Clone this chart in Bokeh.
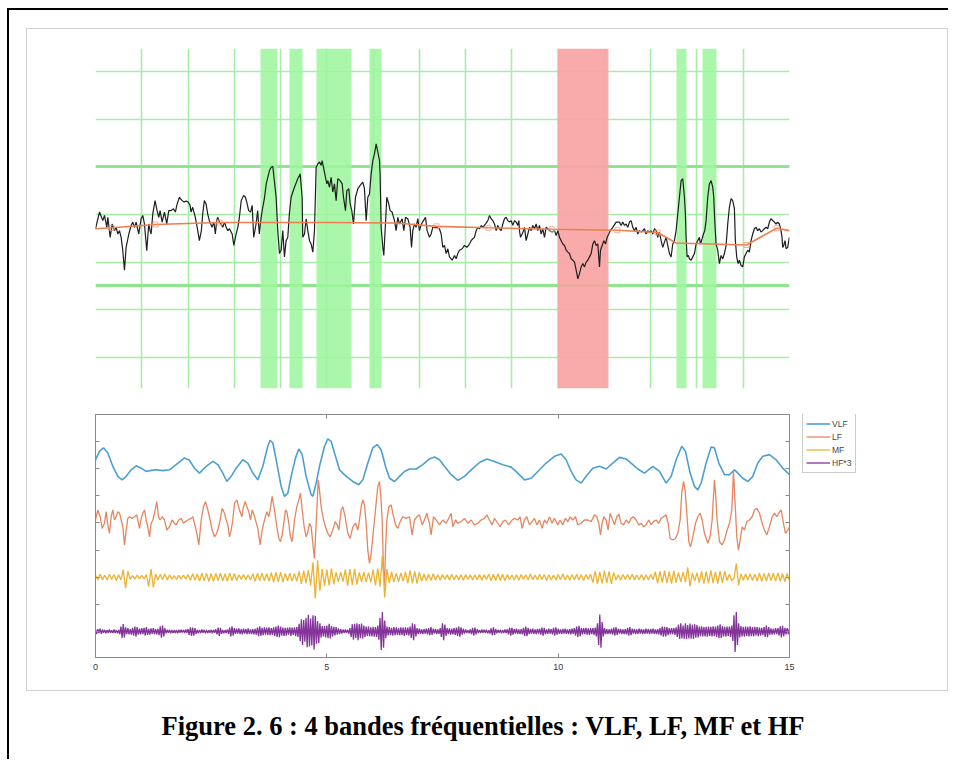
import numpy as np
from bokeh.plotting import figure
from bokeh.models import Range1d, FixedTicker, Grid, LinearAxis, Legend, LegendItem, Div
from bokeh.layouts import column, row
from bokeh.embed import file_html
from bokeh.resources import INLINE

# ---------------- top panel data ----------------
grid_t = [1, 2, 3, 4, 5, 6, 7, 8, 9, 10, 11, 12, 13, 14, 15]
grid_v = [1, 2, 3, 4, 5, 6, 7]
threshold_v = [5.0, 2.5]
green_start = [3.57, 4.19, 4.77, 5.92, 12.56, 13.11]
green_end = [3.93, 4.48, 5.54, 6.18, 12.77, 13.43]
red_start = [9.99]
red_end = [11.09]

signal = [
 (0.0,3.70),(0.086,4.05),(0.158,3.87),(0.194,3.98),(0.245,3.73),(0.266,3.94),(0.317,3.52),(0.36,3.80),(0.41,3.66),(0.446,3.73),
 (0.482,3.59),(0.518,3.66),(0.554,3.52),(0.59,3.24),(0.626,2.83),(0.662,3.31),(0.72,3.59),(0.77,3.77),(0.806,3.84),(0.842,3.73),
 (0.878,3.84),(0.935,3.59),(0.986,3.91),(1.022,3.98),(1.058,3.80),(1.108,3.24),(1.151,3.80),(1.18,3.66),(1.202,3.59),(1.238,4.01),
 (1.288,4.29),(1.331,4.08),(1.367,3.94),(1.396,4.08),(1.44,3.84),(1.49,4.05),(1.54,3.80),(1.584,4.08),(1.634,4.08),(1.684,4.12),
 (1.727,4.05),(1.756,4.19),(1.814,4.36),(1.872,4.29),(1.915,4.26),(1.958,4.28),(2.0,4.26),(2.044,4.19),(2.065,4.05),(2.1,4.15),
 (2.158,3.94),(2.21,3.66),(2.245,3.45),(2.288,3.66),(2.317,4.01),(2.353,4.29),(2.39,4.22),(2.425,4.01),(2.46,3.87),(2.52,3.73),
 (2.56,3.84),(2.59,3.59),(2.62,3.87),(2.64,3.94),(2.68,3.84),(2.716,3.80),(2.75,3.73),(2.79,3.84),(2.824,3.73),(2.86,3.66),
 (2.896,3.70),(2.954,3.59),(2.99,3.35),(3.04,3.59),(3.076,3.73),(3.11,3.94),(3.15,4.29),(3.2,4.40),(3.24,4.36),(3.27,4.26),
 (3.31,4.08),(3.35,4.05),(3.386,4.19),(3.42,3.52),(3.47,3.80),(3.505,4.08),(3.54,3.59),(3.58,3.94),(3.61,4.12),(3.65,4.33),
 (3.69,4.64),(3.76,4.92),(3.796,4.99),(3.832,5.01),(3.904,4.36),(3.94,3.66),(3.976,3.18),(4.012,3.25),(4.048,3.66),(4.084,3.11),
 (4.12,3.45),(4.156,3.52),(4.19,4.01),(4.228,4.36),(4.3,4.57),(4.372,4.75),(4.423,4.85),(4.466,4.36),(4.48,3.52),(4.517,3.59),
 (4.553,3.91),(4.589,3.66),(4.625,3.45),(4.661,3.38),(4.697,3.21),(4.733,3.66),(4.769,4.99),(4.805,5.06),(4.841,5.10),(4.877,5.03),
 (4.898,5.13),(4.927,4.99),(4.97,4.78),(5.0,4.64),(5.021,4.71),(5.057,4.57),(5.093,4.78),(5.129,4.47),(5.165,4.64),(5.201,4.29),
 (5.237,4.75),(5.287,4.71),(5.331,4.64),(5.36,4.36),(5.403,4.08),(5.432,4.50),(5.475,4.54),(5.504,4.22),(5.54,4.08),(5.576,3.80),
 (5.619,4.36),(5.67,4.54),(5.72,4.61),(5.777,4.68),(5.813,4.54),(5.85,3.87),(5.886,4.36),(5.922,4.43),(5.958,4.85),(5.994,5.13),
 (6.03,5.27),(6.066,5.48),(6.102,5.31),(6.138,5.13),(6.152,4.82),(6.174,3.73),(6.21,3.31),(6.231,3.14),(6.267,3.80),(6.296,4.36),
 (6.339,4.22),(6.368,4.08),(6.411,4.05),(6.462,3.87),(6.498,3.66),(6.534,3.94),(6.57,3.80),(6.628,3.91),(6.664,3.66),(6.7,3.94),
 (6.75,3.91),(6.8,3.73),(6.83,3.31),(6.858,3.66),(6.894,3.80),(6.93,3.73),(6.966,3.91),(7.002,3.66),(7.045,3.80),(7.089,3.87),
 (7.132,3.94),(7.168,3.66),(7.218,3.52),(7.254,3.59),(7.29,3.73),(7.362,3.73),(7.434,3.70),(7.471,3.59),(7.507,3.31),(7.543,3.35),
 (7.579,3.18),(7.615,3.28),(7.651,3.11),(7.709,3.04),(7.759,3.14),(7.795,3.07),(7.831,3.18),(7.867,3.25),(7.925,3.28),(7.975,3.35),
 (8.026,3.31),(8.083,3.38),(8.119,3.45),(8.155,3.49),(8.191,3.52),(8.227,3.66),(8.263,3.73),(8.299,3.70),(8.336,3.77),(8.372,3.73),
 (8.43,3.80),(8.48,3.87),(8.516,3.98),(8.552,3.91),(8.588,3.87),(8.624,3.80),(8.66,3.66),(8.696,3.77),(8.732,3.70),(8.768,3.66),
 (8.804,3.80),(8.84,3.91),(8.876,3.94),(8.912,3.87),(8.948,3.84),(8.984,3.87),(9.02,3.77),(9.056,3.87),(9.092,3.84),(9.128,3.77),
 (9.15,3.87),(9.164,3.66),(9.186,3.52),(9.222,3.59),(9.25,3.66),(9.272,3.73),(9.308,3.45),(9.344,3.59),(9.38,3.73),(9.416,3.66),
 (9.452,3.77),(9.488,3.70),(9.524,3.80),(9.56,3.66),(9.596,3.77),(9.632,3.59),(9.668,3.70),(9.704,3.52),(9.74,3.73),(9.776,3.70),
 (9.812,3.66),(9.87,3.63),(9.92,3.66),(9.957,3.56),(9.993,3.66),(10.029,3.52),(10.065,3.45),(10.101,3.38),(10.137,3.35),(10.173,3.25),
 (10.209,3.21),(10.245,3.18),(10.281,3.07),(10.317,3.04),(10.353,3.00),(10.389,2.83),(10.425,2.65),(10.461,2.76),(10.497,2.90),(10.533,2.97),
 (10.569,2.90),(10.605,3.00),(10.641,3.04),(10.677,3.11),(10.713,3.18),(10.749,3.38),(10.785,3.45),(10.821,3.35),(10.857,3.38),(10.893,2.90),
 (10.915,3.25),(10.951,3.35),(10.987,3.45),(11.023,3.38),(11.059,3.52),(11.095,3.59),(11.124,3.66),(11.181,3.73),(11.253,3.84),(11.325,3.84),
 (11.361,3.77),(11.397,3.84),(11.433,3.77),(11.469,3.80),(11.505,3.73),(11.541,3.84),(11.577,3.87),(11.613,3.73),(11.649,3.66),(11.685,3.73),
 (11.721,3.59),(11.757,3.66),(11.793,3.63),(11.829,3.66),(11.865,3.70),(11.901,3.59),(11.937,3.66),(11.973,3.63),(12.009,3.66),(12.045,3.59),
 (12.081,3.70),(12.117,3.66),(12.153,3.52),(12.189,3.63),(12.225,3.45),(12.261,3.31),(12.297,3.42),(12.333,3.52),(12.369,3.35),(12.405,3.18),
 (12.441,3.11),(12.477,3.38),(12.513,3.45),(12.549,3.66),(12.585,4.01),(12.621,4.36),(12.657,4.71),(12.693,4.75),(12.729,4.36),(12.75,4.01),
 (12.765,3.52),(12.787,3.11),(12.815,3.14),(12.837,3.07),(12.873,3.04),(12.909,3.11),(12.945,3.18),(12.981,3.38),(13.017,3.45),(13.053,3.52),
 (13.075,3.38),(13.111,3.49),(13.14,3.59),(13.168,3.66),(13.197,3.87),(13.233,4.36),(13.269,4.64),(13.305,4.71),(13.341,4.57),(13.363,4.36),
 (13.384,3.87),(13.413,3.38),(13.449,3.25),(13.485,2.97),(13.521,3.14),(13.557,3.07),(13.593,3.18),(13.629,3.35),(13.665,3.80),(13.701,4.15),
 (13.737,4.33),(13.773,4.29),(13.809,4.12),(13.83,3.45),(13.859,3.11),(13.888,2.97),(13.917,3.04),(13.953,2.93),(13.989,2.90),(14.025,3.11),
 (14.061,3.18),(14.097,3.25),(14.133,3.21),(14.169,3.45),(14.205,3.59),(14.241,3.70),(14.277,3.73),(14.313,3.66),(14.349,3.70),(14.385,3.63),
 (14.421,3.66),(14.457,3.70),(14.493,3.73),(14.529,3.70),(14.565,3.84),(14.601,3.91),(14.637,3.87),(14.673,3.84),(14.709,3.80),(14.745,3.84),
 (14.781,3.80),(14.817,3.66),(14.838,3.52),(14.853,3.31),(14.875,3.35),(14.903,3.45),(14.925,3.28),(14.961,3.31),(14.997,3.52),
]
trend = [(0.0,3.70),(0.35,3.72),(1.3,3.79),(2.68,3.83),(5.0,3.83),(6.5,3.82),(7.37,3.75),(8.49,3.72),(9.86,3.69),
         (11.28,3.67),(12.15,3.62),(12.55,3.40),(14.07,3.36),(14.72,3.71),(15.0,3.66)]
trend_knots = [(0.35,3.72),(1.3,3.79),(2.68,3.83),(7.37,3.75),(8.49,3.72),(9.86,3.69),(11.28,3.67),(12.15,3.62),(14.07,3.36),(14.72,3.71)]

# ---------------- bottom panel data ----------------
vlf = [
 (0.0,6.33),(0.086,6.64),(0.173,6.77),(0.266,6.58),(0.374,6.09),(0.483,5.72),(0.576,5.59),(0.663,5.72),(0.771,5.96),(0.879,6.11),
 (0.987,6.02),(1.095,5.90),(1.203,5.94),(1.311,5.96),(1.455,5.93),(1.599,5.96),(1.743,6.15),(1.923,6.40),(2.031,6.31),(2.14,6.02),
 (2.248,5.84),(2.392,6.09),(2.536,6.27),(2.644,6.15),(2.752,5.84),(2.838,5.53),(2.932,5.72),(3.04,6.02),(3.184,6.33),(3.292,6.21),
 (3.4,5.84),(3.508,5.59),(3.617,6.09),(3.724,6.83),(3.775,7.05),(3.833,6.95),(3.905,6.33),(4.013,5.35),(4.085,4.98),(4.157,5.10),
 (4.229,5.72),(4.323,6.40),(4.395,6.73),(4.467,6.52),(4.553,5.72),(4.661,5.04),(4.697,4.98),(4.769,5.47),(4.841,6.09),(4.95,6.83),
 (5.021,7.10),(5.093,7.01),(5.187,6.46),(5.274,5.96),(5.418,5.72),(5.562,5.53),(5.692,5.41),(5.778,5.59),(5.886,6.21),(5.994,6.77),
 (6.088,6.89),(6.174,6.70),(6.268,6.09),(6.354,5.65),(6.462,5.53),(6.57,5.72),(6.678,5.90),(6.786,5.99),(6.93,5.99),(7.074,6.15),
 (7.218,6.36),(7.326,6.43),(7.435,6.33),(7.543,6.09),(7.687,5.78),(7.831,5.57),(7.975,5.72),(8.119,5.96),(8.299,6.23),(8.458,6.36),
 (8.623,6.27),(8.803,6.15),(8.984,6.06),(9.128,5.84),(9.272,5.59),(9.416,5.65),(9.56,5.90),(9.74,6.21),(9.92,6.46),(10.064,6.54),
 (10.172,6.33),(10.28,5.90),(10.388,5.59),(10.497,5.47),(10.605,5.72),(10.749,6.02),(10.893,6.09),(11.037,5.99),(11.181,6.21),(11.325,6.42),
 (11.469,6.36),(11.613,6.15),(11.721,5.99),(11.865,5.84),(12.045,6.09),(12.19,5.90),(12.334,5.47),(12.442,5.72),(12.55,6.33),(12.672,6.83),
 (12.752,6.64),(12.852,5.84),(12.946,5.35),(13.018,5.22),(13.09,5.47),(13.198,6.21),(13.306,6.80),(13.378,6.77),(13.472,6.21),(13.594,5.78),
 (13.703,5.78),(13.811,5.96),(13.883,5.84),(13.991,5.65),(14.099,5.53),(14.207,5.72),(14.315,6.21),(14.423,6.46),(14.567,6.52),(14.711,6.33),
 (14.855,6.02),(15.0,5.78),
]
lf = [
 (0.0,4.11),(0.05,4.48),(0.1,4.23),(0.144,3.80),(0.194,3.99),(0.23,4.42),(0.266,3.93),(0.302,3.62),(0.338,4.23),(0.374,4.48),
 (0.41,4.11),(0.446,4.23),(0.483,4.42),(0.519,4.36),(0.555,4.11),(0.591,3.86),(0.627,3.19),(0.663,3.74),(0.699,4.17),(0.735,4.23),
 (0.792,4.17),(0.843,4.23),(0.893,4.30),(0.951,3.80),(0.987,4.17),(1.023,4.36),(1.059,4.48),(1.095,4.11),(1.131,3.86),(1.167,3.49),
 (1.203,3.99),(1.239,4.11),(1.29,4.48),(1.325,4.79),(1.361,4.23),(1.397,4.11),(1.441,4.23),(1.491,4.11),(1.542,3.74),(1.599,3.86),
 (1.657,4.11),(1.707,3.99),(1.743,3.93),(1.801,4.11),(1.851,4.17),(1.902,3.99),(1.945,4.05),(1.995,4.11),(2.067,4.17),(2.104,4.23),
 (2.14,3.99),(2.19,3.62),(2.233,3.19),(2.284,4.11),(2.334,4.60),(2.377,4.79),(2.428,4.48),(2.478,4.11),(2.521,3.74),(2.572,3.49),
 (2.622,3.62),(2.68,3.99),(2.738,4.54),(2.788,4.36),(2.824,4.11),(2.86,3.93),(2.896,3.49),(2.932,3.74),(2.968,4.11),(3.004,4.73),
 (3.055,4.85),(3.112,4.48),(3.163,4.23),(3.199,4.60),(3.235,4.79),(3.271,4.60),(3.314,4.42),(3.35,4.11),(3.386,4.48),(3.415,4.36),
 (3.458,4.11),(3.508,3.80),(3.559,3.19),(3.602,3.74),(3.652,4.11),(3.703,4.42),(3.746,4.23),(3.775,4.48),(3.818,4.98),(3.869,4.48),
 (3.919,3.86),(3.962,3.43),(3.998,3.31),(4.034,3.56),(4.07,3.99),(4.106,4.48),(4.135,4.42),(4.178,3.99),(4.214,3.49),(4.25,3.31),
 (4.301,4.11),(4.351,4.60),(4.395,4.85),(4.431,5.10),(4.467,4.48),(4.51,3.86),(4.553,3.49),(4.582,3.62),(4.625,3.99),(4.661,3.86),
 (4.697,3.25),(4.733,2.69),(4.755,3.49),(4.784,4.48),(4.813,5.59),(4.841,5.22),(4.877,4.60),(4.928,4.11),(4.971,3.86),(5.021,3.62),
 (5.072,3.49),(5.13,3.74),(5.18,4.05),(5.223,3.93),(5.259,3.74),(5.31,4.48),(5.346,4.60),(5.396,4.23),(5.454,3.62),(5.504,3.43),
 (5.562,3.86),(5.62,3.99),(5.67,3.74),(5.706,4.11),(5.742,4.60),(5.778,4.85),(5.814,4.67),(5.85,3.99),(5.886,3.00),(5.922,2.51),
 (5.958,2.88),(5.994,3.49),(6.03,4.11),(6.066,4.73),(6.102,5.35),(6.138,5.53),(6.167,4.98),(6.196,4.11),(6.225,2.26),(6.246,1.70),
 (6.268,3.00),(6.297,4.11),(6.34,4.60),(6.39,4.67),(6.426,4.36),(6.484,3.93),(6.534,3.80),(6.585,4.05),(6.642,4.23),(6.714,4.17),
 (6.786,4.23),(6.844,3.56),(6.894,4.11),(6.945,4.23),(7.002,4.30),(7.06,3.93),(7.11,4.11),(7.161,4.36),(7.218,3.99),(7.254,3.56),
 (7.305,4.23),(7.363,4.11),(7.435,3.93),(7.507,4.11),(7.579,3.99),(7.651,4.23),(7.687,4.36),(7.723,3.86),(7.78,4.11),(7.831,3.99),
 (7.903,4.05),(7.975,4.17),(8.047,3.99),(8.119,4.11),(8.191,3.93),(8.263,3.99),(8.335,4.11),(8.407,4.17),(8.458,4.30),(8.515,4.11),
 (8.573,3.93),(8.623,4.17),(8.695,3.99),(8.746,3.86),(8.803,4.05),(8.861,4.11),(8.933,3.93),(9.005,4.11),(9.056,4.17),(9.128,4.11),
 (9.178,4.23),(9.221,3.80),(9.272,4.11),(9.322,4.23),(9.38,3.93),(9.437,4.05),(9.488,4.17),(9.538,3.93),(9.596,4.11),(9.654,3.80),
 (9.704,4.11),(9.754,3.99),(9.812,4.23),(9.87,3.99),(9.92,4.17),(9.992,3.93),(10.043,4.11),(10.1,3.93),(10.158,4.17),(10.208,4.05),
 (10.259,4.23),(10.316,4.11),(10.374,4.23),(10.424,3.93),(10.497,3.99),(10.569,4.11),(10.641,4.11),(10.713,4.05),(10.785,4.30),(10.835,4.23),
 (10.878,3.99),(10.914,3.56),(10.95,3.99),(10.986,4.23),(11.037,4.11),(11.08,3.74),(11.123,4.36),(11.166,4.17),(11.217,3.93),(11.267,4.23),
 (11.311,4.33),(11.361,3.99),(11.412,3.93),(11.469,4.11),(11.527,3.99),(11.577,4.17),(11.628,4.23),(11.685,4.11),(11.743,3.93),(11.793,3.99),
 (11.851,3.86),(11.901,3.93),(11.959,4.11),(12.009,3.93),(12.06,4.05),(12.118,4.11),(12.175,3.99),(12.226,4.17),(12.276,4.23),(12.334,4.30),
 (12.377,3.99),(12.42,3.43),(12.478,3.37),(12.535,3.43),(12.586,3.62),(12.636,4.11),(12.672,5.10),(12.708,5.53),(12.744,5.22),(12.78,4.36),
 (12.824,3.31),(12.86,3.12),(12.91,3.49),(12.968,3.99),(13.018,4.23),(13.069,4.36),(13.112,4.11),(13.162,3.62),(13.234,3.25),(13.284,3.49),
 (13.328,4.11),(13.357,4.98),(13.378,5.59),(13.407,4.98),(13.436,4.11),(13.486,3.31),(13.544,3.19),(13.594,3.37),(13.652,3.74),(13.703,3.99),
 (13.753,4.48),(13.789,5.90),(13.832,4.48),(13.861,3.49),(13.897,3.00),(13.933,3.37),(13.977,3.86),(14.027,3.74),(14.077,4.05),(14.135,4.11),
 (14.193,4.23),(14.243,4.48),(14.293,4.54),(14.351,4.36),(14.409,3.99),(14.459,3.74),(14.51,3.56),(14.567,3.86),(14.625,4.23),(14.675,4.36),
 (14.726,4.23),(14.769,4.36),(14.819,4.48),(14.87,3.99),(14.913,3.62),(14.963,3.74),(15.0,3.86),
]
MF_DT = 0.05
MF_OFFSET = 2.0
mf_v = [
 0.08,-0.1,0.12,-0.09,0.07,-0.1,0.11,-0.08,0.1,-0.12,0.09,-0.1,0.28,-0.4,0.22,-0.08,0.06,-0.07,0.08,-0.06,
 0.07,-0.06,0.1,-0.35,0.3,-0.38,0.12,-0.1,0.11,-0.09,0.12,-0.1,0.09,-0.07,0.06,-0.08,0.07,-0.06,0.08,-0.07,
 0.1,-0.12,0.13,-0.11,0.12,-0.14,0.15,-0.13,0.14,-0.16,0.13,-0.15,0.14,-0.12,0.15,-0.14,0.13,-0.15,0.16,-0.13,
 0.14,-0.12,0.09,-0.08,0.1,-0.09,0.08,-0.1,0.13,-0.15,0.14,-0.12,0.15,-0.14,0.13,-0.15,0.17,-0.19,0.18,-0.17,
 0.19,-0.18,0.14,-0.13,0.15,-0.14,0.13,-0.15,0.22,-0.25,0.24,-0.22,0.26,-0.3,0.55,-0.78,0.62,-0.5,0.3,-0.32,
 0.28,-0.3,0.32,-0.26,0.18,-0.17,0.19,-0.16,0.28,-0.32,0.3,-0.28,0.31,-0.27,0.18,-0.17,0.19,-0.18,0.17,-0.19,
 0.28,-0.3,0.32,-0.35,0.8,-0.75,0.3,-0.22,0.2,-0.18,0.15,-0.17,0.16,-0.15,0.2,-0.22,0.25,-0.23,0.22,-0.24,
 0.2,-0.15,0.12,-0.13,0.11,-0.12,0.13,-0.1,0.09,-0.11,0.1,-0.08,0.09,-0.1,0.11,-0.09,0.08,-0.1,0.09,-0.11,
 0.1,-0.08,0.09,-0.1,0.08,-0.09,0.1,-0.11,0.09,-0.08,0.12,-0.13,0.11,-0.12,0.13,-0.12,0.11,-0.13,0.1,-0.09,
 0.08,-0.1,0.09,-0.11,0.1,-0.08,0.09,-0.1,0.12,-0.09,0.08,-0.1,0.11,-0.09,0.1,-0.12,0.09,-0.1,0.08,-0.11,
 0.1,-0.09,0.12,-0.1,0.08,-0.11,0.1,-0.09,0.11,-0.1,0.09,-0.12,0.1,-0.08,0.11,-0.2,0.22,-0.25,0.2,-0.23,
 0.24,-0.21,0.22,-0.25,0.18,-0.1,0.09,-0.11,0.1,-0.08,0.1,-0.09,0.11,-0.1,0.08,-0.09,0.1,-0.11,0.09,-0.1,
 0.1,-0.09,0.2,-0.23,0.22,-0.2,0.24,-0.22,0.21,-0.24,0.23,-0.2,0.18,-0.17,0.19,-0.18,0.36,-0.34,0.15,-0.14,
 0.16,-0.2,0.22,-0.24,0.21,-0.23,0.25,-0.22,0.2,-0.24,0.23,-0.21,0.22,-0.12,0.11,-0.13,-0.05,0.5,-0.3,0.12,
 -0.11,0.12,-0.1,0.13,-0.12,0.11,-0.14,0.15,-0.16,0.14,-0.15,0.16,-0.13,0.15,-0.14,0.16,-0.15,0.13,-0.16,0.14,
 -0.13,
]
HF_DT = 0.025
HF_OFFSET = 0.0
hf_v = [
 0.08,-0.1,0.09,-0.06,0.1,-0.09,0.07,-0.05,0.06,-0.07,0.05,-0.06,0.07,-0.05,0.04,-0.06,0.07,-0.06,0.05,-0.07,0.06,-0.1,0.18,-0.24,0.27,-0.22,0.15,-0.1,0.12,-0.11,0.09,-0.12,0.13,-0.15,0.18,-0.19,0.16,-0.12,0.1,-0.11,
 0.12,-0.1,0.13,-0.15,0.16,-0.13,0.1,-0.12,0.11,-0.09,0.12,-0.1,0.09,-0.11,0.1,-0.14,0.19,-0.23,0.22,-0.18,0.12,-0.07,0.06,-0.05,0.06,-0.07,0.05,-0.06,0.04,-0.06,0.05,-0.07,0.06,-0.05,0.06,-0.04,0.05,-0.06,0.07,-0.05,
 0.09,-0.13,0.15,-0.16,0.14,-0.15,0.12,-0.09,0.06,-0.07,0.05,-0.06,0.07,-0.05,0.06,-0.07,0.05,-0.06,0.04,-0.05,0.06,-0.07,0.06,-0.05,0.08,-0.11,0.14,-0.16,0.13,-0.09,0.06,-0.07,0.05,-0.06,0.07,-0.09,0.14,-0.18,0.19,-0.15,
 0.12,-0.09,0.1,-0.08,0.11,-0.1,0.09,-0.11,0.1,-0.08,0.09,-0.1,0.11,-0.09,0.08,-0.1,0.09,-0.11,0.1,-0.12,0.14,-0.17,0.19,-0.16,0.13,-0.14,0.15,-0.12,0.14,-0.13,0.15,-0.14,0.12,-0.13,0.15,-0.16,0.18,-0.2,0.22,-0.21,
 0.18,-0.15,0.14,-0.16,0.13,-0.15,0.14,-0.12,0.15,-0.16,0.14,-0.13,0.15,-0.17,0.16,-0.2,0.28,-0.36,0.45,-0.5,0.42,-0.38,0.5,-0.58,0.62,-0.55,0.48,-0.52,0.6,-0.66,0.58,-0.45,0.38,-0.42,0.3,-0.22,0.2,-0.18,0.2,-0.22,
 0.22,-0.25,0.28,-0.26,0.2,-0.18,0.17,-0.15,0.16,-0.12,0.11,-0.1,0.09,-0.08,0.07,-0.06,0.07,-0.05,0.06,-0.08,0.12,-0.2,0.26,-0.3,0.28,-0.24,0.3,-0.32,0.27,-0.25,0.29,-0.26,0.22,-0.2,0.18,-0.16,0.18,-0.17,0.15,-0.18,
 0.17,-0.19,0.16,-0.2,0.22,-0.3,0.5,-0.68,0.72,-0.6,0.4,-0.25,0.18,-0.15,0.16,-0.14,0.13,-0.15,0.16,-0.14,0.15,-0.13,0.12,-0.14,0.15,-0.13,0.14,-0.16,0.15,-0.13,0.14,-0.15,0.18,-0.24,0.3,-0.32,0.26,-0.18,0.12,-0.1,
 0.1,-0.09,0.08,-0.1,0.09,-0.08,0.1,-0.11,0.12,-0.14,0.16,-0.13,0.1,-0.08,0.09,-0.1,0.08,-0.09,0.12,-0.2,0.3,-0.32,0.25,-0.16,0.12,-0.1,0.11,-0.12,0.1,-0.11,0.12,-0.13,0.14,-0.16,0.18,-0.19,0.15,-0.12,0.1,-0.08,
 0.07,-0.06,0.05,-0.07,0.08,-0.1,0.13,-0.15,0.14,-0.11,0.08,-0.06,0.05,-0.06,0.07,-0.05,0.06,-0.05,0.06,-0.07,0.05,-0.08,0.11,-0.14,0.15,-0.13,0.09,-0.07,0.06,-0.05,0.06,-0.07,0.05,-0.06,0.07,-0.06,0.08,-0.11,0.14,-0.15,
 0.13,-0.12,0.09,-0.08,0.1,-0.09,0.08,-0.1,0.09,-0.11,0.13,-0.16,0.18,-0.17,0.13,-0.1,0.09,-0.08,0.1,-0.09,0.08,-0.1,0.09,-0.08,0.1,-0.12,0.14,-0.15,0.13,-0.1,0.08,-0.09,0.1,-0.08,0.09,-0.11,0.13,-0.15,0.15,-0.12,
 0.1,-0.09,0.08,-0.1,0.09,-0.08,0.1,-0.09,0.08,-0.1,0.09,-0.11,0.1,-0.09,0.12,-0.15,0.18,-0.2,0.21,-0.17,0.12,-0.11,0.12,-0.1,0.13,-0.12,0.11,-0.13,0.12,-0.1,0.12,-0.13,0.14,-0.18,0.3,-0.5,0.62,-0.6,0.35,-0.18,
 0.12,-0.1,0.09,-0.1,0.08,-0.09,0.1,-0.12,0.14,-0.15,0.16,-0.13,0.1,-0.08,0.09,-0.1,0.08,-0.1,0.09,-0.11,0.13,-0.15,0.16,-0.14,0.1,-0.08,0.09,-0.1,0.08,-0.09,0.1,-0.08,0.09,-0.1,0.08,-0.09,0.1,-0.08,0.09,-0.1,
 0.09,-0.08,0.1,-0.09,0.08,-0.1,0.09,-0.11,0.12,-0.15,0.18,-0.19,0.17,-0.18,0.16,-0.14,0.12,-0.11,0.12,-0.1,0.12,-0.13,0.15,-0.2,0.25,-0.28,0.3,-0.26,0.22,-0.27,0.3,-0.28,0.24,-0.26,0.29,-0.27,0.25,-0.28,0.26,-0.23,
 0.24,-0.22,0.18,-0.17,0.19,-0.18,0.16,-0.18,0.17,-0.19,0.18,-0.16,0.17,-0.18,0.19,-0.17,0.18,-0.2,0.22,-0.25,0.26,-0.24,0.2,-0.18,0.17,-0.19,0.18,-0.16,0.18,-0.2,0.22,-0.35,0.6,-0.76,0.72,-0.5,0.3,-0.22,0.2,-0.18,
 0.17,-0.19,0.18,-0.16,0.17,-0.18,0.19,-0.17,0.16,-0.18,0.17,-0.15,0.16,-0.17,0.14,-0.15,0.13,-0.14,0.16,-0.2,0.22,-0.21,0.16,-0.12,0.11,-0.12,0.1,-0.11,0.12,-0.1,0.12,-0.15,0.19,-0.22,0.21,-0.17,0.13,-0.11,0.12,-0.1,
 0.11,
]
x_ticks = [0, 5, 10, 15]
y_ticks_bottom = [0, 1, 2, 3, 4, 5, 6, 7]
legend_labels = ["VLF", "LF", "MF", "HF*3"]
band_colors = ["#4c9fd3", "#e58660", "#ebb333", "#84339b"]
band_widths = [1.6, 1.3, 1.3, 1.3]

# ---------------- top figure ----------------
pa = figure(width=920, height=371, x_range=Range1d(0, 15), y_range=Range1d(0.35, 7.48),
            x_axis_type=None, y_axis_type=None, output_backend="svg", toolbar_location=None,
            min_border_left=68, min_border_right=158, min_border_top=19, min_border_bottom=12)
pa.outline_line_color = None
pa.background_fill_color = "white"
pa.border_fill_color = "white"
pa.add_layout(Grid(dimension=0, ticker=FixedTicker(ticks=grid_t), grid_line_color="#a6eea6", grid_line_width=1.6))
pa.add_layout(Grid(dimension=1, ticker=FixedTicker(ticks=grid_v), grid_line_color="#a6eea6", grid_line_width=1.6))
pa.hspan(y=threshold_v, line_color="#8ee58e", line_width=3)
pa.vstrip(x0=green_start, x1=green_end, fill_color="#9ef59e", fill_alpha=0.88, line_color=None)
pa.vstrip(x0=red_start, x1=red_end, fill_color="#f8a4a4", fill_alpha=0.92, line_color=None)
sig_t, sig_v = zip(*signal)
pa.line(list(sig_t), list(sig_v), line_color="#1e1e1e", line_width=1.2)
tr_t, tr_v = zip(*trend)
pa.line(list(tr_t), list(tr_v), line_color="#ee7d52", line_width=1.6)
kn_t, kn_v = zip(*trend_knots)
pa.scatter(list(kn_t), list(kn_v), marker="square", size=5, fill_color=None, line_color="#f0a080", line_alpha=0.8)

# ---------------- bottom figure ----------------
pb = figure(width=770, height=290, x_range=Range1d(0, 15), y_range=Range1d(-0.96, 8.0),
            x_axis_type=None, y_axis_type=None, output_backend="svg", toolbar_location=None,
            min_border_left=68, min_border_right=8, min_border_top=14, min_border_bottom=33)
pb.outline_line_color = "#8a8a8a"
pb.background_fill_color = "white"
pb.border_fill_color = "white"

def tick_axis(ticks, show_labels):
    ax = LinearAxis(ticker=FixedTicker(ticks=ticks))
    ax.major_tick_in = 4
    ax.major_tick_out = 0
    ax.minor_tick_line_color = None
    ax.axis_line_color = "#8a8a8a"
    ax.major_tick_line_color = "#8a8a8a"
    if show_labels:
        ax.major_label_text_font = "Liberation Sans"
        ax.major_label_text_font_size = "9px"
        ax.major_label_text_color = "#3a3a3a"
        ax.major_label_standoff = 6
    else:
        ax.major_label_overrides = {t: "" for t in ticks}
        ax.major_label_standoff = 0
    return ax

pb.add_layout(tick_axis(x_ticks, True), "below")
pb.add_layout(tick_axis(x_ticks, False), "above")
pb.add_layout(tick_axis(y_ticks_bottom, False), "left")
pb.add_layout(tick_axis(y_ticks_bottom, False), "right")

vt, vv = zip(*vlf)
pb.line(list(vt), list(vv), line_color=band_colors[0], line_width=band_widths[0])
lt, lv = zip(*lf)
pb.line(list(lt), list(lv), line_color=band_colors[1], line_width=band_widths[1])
mf_t = np.arange(len(mf_v)) * MF_DT
pb.line(mf_t, np.array(mf_v) + MF_OFFSET, line_color=band_colors[2], line_width=band_widths[2])
hf_t = np.arange(len(hf_v)) * HF_DT
pb.line(hf_t, np.array(hf_v) + HF_OFFSET, line_color=band_colors[3], line_width=band_widths[3])

# ---------------- legend holder (to the right of the lower axes) ----------------
pleg = figure(width=150, height=290, x_range=Range1d(0, 1), y_range=Range1d(0, 1),
              x_axis_type=None, y_axis_type=None, output_backend="svg", toolbar_location=None,
              min_border_left=0, min_border_right=0, min_border_top=0, min_border_bottom=0)
pleg.outline_line_color = None
pleg.background_fill_color = "white"
pleg.border_fill_color = "white"
# legend-only renderers (no visible data: a single missing sample)
leg_renderers = [pleg.line(x=[np.nan], y=[np.nan], line_color=c, line_width=w) for c, w in zip(band_colors, band_widths)]
legend = Legend(items=[LegendItem(label=l, renderers=[r]) for l, r in zip(legend_labels, leg_renderers)],
                location=(5, 184), label_text_font="Liberation Sans", label_text_font_size="8.5px",
                label_text_color="#444444", glyph_width=24, glyph_height=13, label_standoff=2,
                spacing=0, padding=3, margin=0, border_line_color="#9a9a9a", background_fill_color="white")
pleg.add_layout(legend, "center")

caption = Div(text='<div style="width:914px;text-align:center;font-family:\'Liberation Serif\';font-weight:bold;'
                   'font-size:26.5px;color:#000;padding-top:17px">'
                   'Figure 2. 6 : 4 bandes fréquentielles : VLF, LF, MF et HF</div>',
              width=914, height=68, margin=(0, 0, 0, 17))

inner = column(pa, row(pb, pleg, spacing=0), spacing=0, margin=(18, 0, 0, 17),
               styles={"border": "1px solid #d2d2d2"})
outer = column(inner, caption, spacing=0, margin=(8, 0, 0, 7),
               styles={"border-left": "2px solid #000", "border-top": "2px solid #000"})

open("out.html", "w").write(file_html(outer, INLINE))
